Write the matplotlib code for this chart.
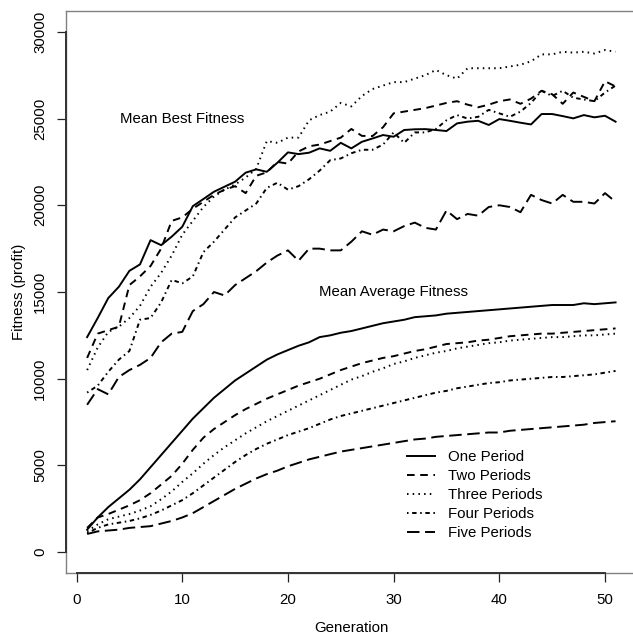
import numpy as np
import matplotlib
matplotlib.use("Agg")
import matplotlib.pyplot as plt

plt.rcParams['font.family'] = ['Liberation Sans', 'DejaVu Sans']
plt.rcParams['lines.scale_dashes'] = False

generations = list(range(1, 52))

best_one = [12400, 13500, 14650, 15300, 16220, 16590, 17990, 17700, 18190, 18760,
            19950, 20360, 20780, 21070, 21360, 21880, 22070, 21930, 22450, 23050,
            22950, 23030, 23280, 23140, 23600, 23280, 23660, 23850, 24050, 23950,
            24340, 24380, 24390, 24340, 24280, 24720, 24820, 24870, 24630, 24970,
            24870, 24760, 24660, 25260, 25260, 25140, 25010, 25200, 25070, 25160, 24820]
best_two = [11200, 12600, 12800, 13000, 15400, 15900, 16500, 17500, 19100, 19300,
            19800, 20200, 20600, 20900, 21100, 20700, 21700, 21900, 22500, 22400,
            23100, 23400, 23500, 23700, 23900, 24400, 24000, 23990, 24500, 25300,
            25400, 25500, 25600, 25750, 25900, 26000, 25800, 25650, 25800, 26000,
            26100, 25850, 26150, 26600, 26400, 25850, 26500, 26250, 26000, 27150, 26850]
best_three = [10500, 11800, 12700, 13000, 13500, 14200, 15300, 16100, 17100, 18300,
              19100, 19900, 20500, 20900, 21200, 21600, 22100, 23700, 23600, 23900,
              23900, 24900, 25200, 25400, 25900, 25700, 26300, 26700, 26900, 27100,
              27100, 27300, 27500, 27800, 27500, 27300, 27900, 27900, 27900, 27900,
              28000, 28100, 28300, 28700, 28700, 28850, 28800, 28850, 28750, 28950, 28850]
best_four = [9200, 9600, 10400, 11100, 11600, 13400, 13500, 14400, 15700, 15500,
             15900, 17300, 17900, 18600, 19300, 19700, 20100, 21000, 21300, 20900,
             21100, 21500, 22000, 22600, 22700, 23000, 23200, 23200, 23500, 24200,
             23600, 24200, 24200, 24400, 24900, 25200, 25000, 25100, 25500, 25300,
             25100, 25400, 25900, 26600, 26300, 26600, 26200, 26100, 26000, 26500, 26900]
best_five = [8500, 9400, 9100, 10100, 10500, 10800, 11200, 12100, 12600, 12700,
             13900, 14300, 15000, 14800, 15400, 15800, 16200, 16700, 17100, 17400,
             16800, 17500, 17500, 17400, 17400, 17900, 18500, 18300, 18600, 18500,
             18800, 19000, 18700, 18600, 19700, 19200, 19500, 19400, 19900, 20000,
             19900, 19600, 20600, 20300, 20100, 20600, 20200, 20200, 20100, 20700, 20200]

avg_one = [1300, 2000, 2600, 3100, 3600, 4200, 4900, 5600, 6300, 7000,
           7700, 8300, 8900, 9400, 9900, 10300, 10700, 11100, 11400, 11650,
           11900, 12100, 12400, 12500, 12650, 12750, 12900, 13050, 13200, 13300,
           13400, 13550, 13600, 13650, 13750, 13800, 13850, 13900, 13950, 14000,
           14050, 14100, 14150, 14200, 14250, 14250, 14250, 14350, 14300, 14350, 14400]
avg_two = [1400, 2000, 2200, 2450, 2700, 3000, 3400, 3900, 4400, 5100,
           5900, 6600, 7100, 7500, 7900, 8250, 8550, 8850, 9100, 9350,
           9600, 9800, 10000, 10250, 10500, 10700, 10900, 11050, 11200, 11300,
           11450, 11600, 11700, 11850, 12000, 12050, 12100, 12200, 12250, 12350,
           12450, 12500, 12550, 12600, 12600, 12650, 12700, 12750, 12800, 12850, 12900]
avg_three = [1200, 1600, 1900, 2050, 2200, 2400, 2650, 3050, 3500, 4050,
             4550, 5100, 5600, 6050, 6450, 6850, 7200, 7550, 7850, 8150,
             8450, 8750, 9050, 9350, 9650, 9950, 10150, 10400, 10600, 10850,
             11000, 11200, 11350, 11500, 11600, 11750, 11850, 11950, 12050, 12100,
             12200, 12250, 12300, 12350, 12400, 12400, 12450, 12500, 12500, 12550, 12600]
avg_four = [1100, 1400, 1600, 1700, 1800, 1950, 2150, 2400, 2700, 3000,
            3400, 3850, 4300, 4750, 5200, 5600, 5950, 6250, 6500, 6750,
            6950, 7150, 7400, 7650, 7850, 8000, 8150, 8300, 8450, 8600,
            8750, 8900, 9050, 9200, 9300, 9450, 9550, 9650, 9750, 9800,
            9900, 9950, 10000, 10050, 10100, 10100, 10150, 10200, 10250, 10350, 10450]
avg_five = [1050, 1200, 1250, 1300, 1400, 1450, 1500, 1650, 1800, 2000,
            2250, 2600, 2950, 3300, 3650, 3950, 4250, 4500, 4700, 4950,
            5150, 5350, 5500, 5650, 5800, 5900, 6000, 6100, 6200, 6300,
            6400, 6500, 6550, 6650, 6700, 6750, 6800, 6850, 6900, 6900,
            7000, 7050, 7100, 7150, 7200, 7250, 7300, 7350, 7450, 7500, 7550]

series_labels = ["One Period", "Two Periods", "Three Periods", "Four Periods", "Five Periods"]
x_ticks = [0, 10, 20, 30, 40, 50]
y_ticks = [0, 5000, 10000, 15000, 20000, 25000, 30000]

styles = ['-', (0, (5.5, 4.0)), (0, (1.1, 3.0)), (0, (1.1, 2.6, 3.2, 2.6)), (0, (9.0, 4.0))]

fig = plt.figure(figsize=(6.33, 6.37), dpi=100)
ax = fig.add_axes([66 / 633, 64 / 637, 570.7 / 633, 562 / 637])

best_all = [best_one, best_two, best_three, best_four, best_five]
avg_all = [avg_one, avg_two, avg_three, avg_four, avg_five]
lw = 1.4
for lab, ls, b, a in zip(series_labels, styles, best_all, avg_all):
    ax.plot(generations, b, color='black', linestyle=ls, linewidth=lw)
    ax.plot(generations, a, color='black', linestyle=ls, linewidth=lw, label=lab)

ax.set_xlim(-1, 53)
ax.set_ylim(-1200, 31200)
ax.set_xticks(x_ticks)
ax.set_yticks(y_ticks)
ax.set_xticklabels([str(t) for t in x_ticks])
ax.set_yticklabels([str(t) for t in y_ticks])

fs = 10.8
ax.tick_params(axis='both', direction='out', length=6.5, width=0.9, color='#222222',
               labelsize=fs, labelcolor='black')
ax.tick_params(axis='x', pad=8)
ax.tick_params(axis='y', pad=7)
for lab in ax.get_yticklabels():
    lab.set_rotation(90)
    lab.set_va('center')
    lab.set_ha('right')

for sp in ax.spines.values():
    sp.set_color('#808080')
    sp.set_linewidth(1.0)
ax.plot([x_ticks[0], x_ticks[-1]], [-1200, -1200], color='#333333', linewidth=1.4,
        clip_on=False, zorder=5)
ax.plot([-1, -1], [y_ticks[0], y_ticks[-1]], color='#333333', linewidth=1.4,
        clip_on=False, zorder=5)

ax.set_xlabel("Generation", fontsize=fs, labelpad=10)
ax.set_ylabel("Fitness (profit)", fontsize=fs, labelpad=5)

ax.text(10, 25000, "Mean Best Fitness", ha='center', va='center', fontsize=fs)
ax.text(30, 15000, "Mean Average Fitness", ha='center', va='center', fontsize=fs)

leg = ax.legend(loc='upper left', bbox_to_anchor=(407 / 633, 1 - 450 / 637),
                bbox_transform=fig.transFigure, frameon=False, fontsize=fs,
                handlelength=1.85, handletextpad=0.9, labelspacing=0.33,
                borderpad=0, borderaxespad=0)

fig.savefig("out.png", dpi=100)
